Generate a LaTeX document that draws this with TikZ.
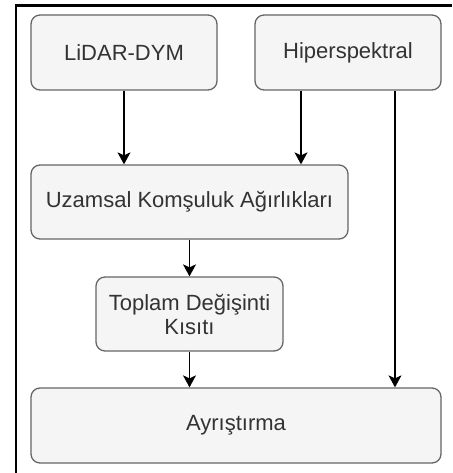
\documentclass[tikz,border=0pt]{standalone}
\usepackage{fontspec}
\setmainfont{Liberation Sans}
\usetikzlibrary{positioning}
\usetikzlibrary{arrows.meta}
\definecolor{blokdolgu}{HTML}{F5F5F5}
\definecolor{blokcizgi}{HTML}{666666}
\definecolor{blokyazi}{HTML}{333333}
\tikzset{
	blok/.style={draw=blokcizgi, fill=blokdolgu, rounded corners=9pt, line width=1.3pt,
		text=blokyazi, font=\fontsize{22}{24}\selectfont, align=center, inner sep=0pt},
	ok/.style={-{Stealth[length=12pt,width=13pt,inset=3pt]}, line width=1.3pt}
}

\begin{document}
\begin{tikzpicture}[x=1pt,y=-1pt]
	\useasboundingbox (0,0) rectangle (452,473);
	% cerceve
	\draw[line width=2.2pt] (16,473) -- (16,5.5) -- (452,5.5);

	\node[blok, minimum width=186pt, minimum height=75pt] (lidar) at (124,52.5) {LiDAR-DYM};
	\node[blok, minimum width=186pt, minimum height=75pt] (hiper) at (348,52.5) {Hiperspektral};
	\node[blok, minimum width=317pt, minimum height=74pt] (uzam) at (189.5,202) {Uzamsal Komşuluk Ağırlıkları};
	\node[blok, minimum width=187pt, minimum height=74pt] (toplam) at (189.5,314) {Toplam Değişinti\\Kısıtı};
	\node[blok, minimum width=410pt, minimum height=75pt] (ayr) at (236,425.5) {Ayrıştırma};

	\draw[ok] (lidar.south) -- (lidar.south |- uzam.north);
	\draw[ok] ([xshift=-47pt]hiper.south) -- ([xshift=-47pt]hiper.south |- uzam.north);
	\draw[ok] (uzam.south) -- (toplam.north);
	\draw[ok] (toplam.south) -- (ayr.north -| toplam.south);
	\draw[ok] ([xshift=47pt]hiper.south) -- ([xshift=47pt]hiper.south |- ayr.north);
\end{tikzpicture}
\end{document}
